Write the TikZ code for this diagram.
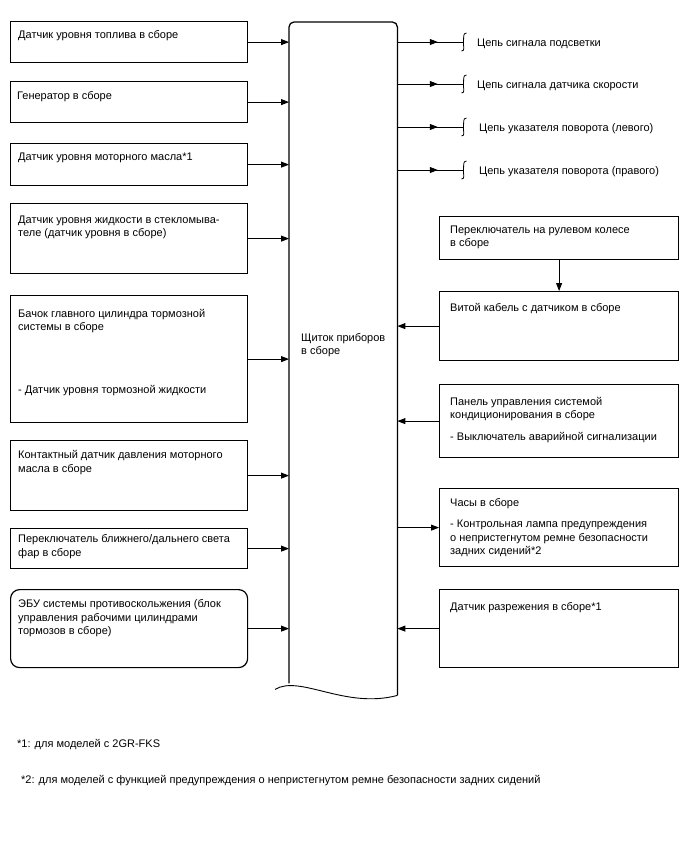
\documentclass[tikz,border=0pt]{standalone}
\usepackage{fontspec}
\setmainfont{Liberation Sans}
\usetikzlibrary{positioning,arrows.meta,calc,decorations.markings}

\tikzset{
  box/.style={draw, line width=1.2pt, anchor=north west, inner sep=0pt},
  txt/.style={anchor=north west, inner sep=0pt, align=left, yshift=-1.8pt},
  arr/.style={line width=0.9pt, -{Triangle[length=8pt,width=6pt]}},
  outarr/.style={line width=0.9pt, postaction={decorate},
    decoration={markings, mark=at position 0.62 with {\arrow{Triangle[length=8pt,width=6pt]}}}},
  brk/.style={line width=0.8pt}
}

\begin{document}
\begin{tikzpicture}[x=1pt,y=-1pt, font=\fontsize{11}{13.3}\selectfont]
\useasboundingbox (0,0) rectangle (688,852);

% instrument panel
\node[anchor=north west, inner sep=0pt, minimum width=108, minimum height=661] (panel) at (289,22) {};
\draw[line width=1.3pt, rounded corners=5pt] (panel.south west) -- (panel.north west) -- (panel.north east) -- ([shift={(0,12)}]panel.south east);
\draw[line width=0.9pt] ([shift={(-14,6)}]panel.south west) .. controls ([shift={(11,-9)}]panel.south west) and ([shift={(56,26)}]panel.south west) .. ([shift={(0,12)}]panel.south east);
\node[txt] (plabel) at (301,331.4) {Щиток приборов\\в сборе};

% inputs, left side
\node[box, minimum width=237, minimum height=41] (fuel) at (10,21) {};
\node[txt] (fueltx) at (18,28.7) {Датчик уровня топлива в сборе};
\node[box, minimum width=237, minimum height=41] (gen) at (10,81) {};
\node[txt] (gentx) at (17,89.7) {Генератор в сборе};
\node[box, minimum width=237, minimum height=42] (oil) at (10,143) {};
\node[txt] (oiltx) at (18,151.4) {Датчик уровня моторного масла*1};
\node[box, minimum width=237, minimum height=70] (washer) at (10,203) {};
\node[txt] (washertx) at (18,213.7) {Датчик уровня жидкости в стекломыва-\\теле (датчик уровня в сборе)};
\node[box, minimum width=237, minimum height=127] (brake) at (10,295) {};
\node[txt] (braketx) at (18,307.4) {Бачок главного цилиндра тормозной\\системы в сборе\\[49.7pt]- Датчик уровня тормозной жидкости};
\node[box, minimum width=237, minimum height=70] (press) at (10,440) {};
\node[txt] (presstx) at (18,448.7) {Контактный датчик давления моторного\\масла в сборе};
\node[box, minimum width=237, minimum height=40] (beam) at (10,528) {};
\node[txt] (beamtx) at (18,532.7) {Переключатель ближнего/дальнего света\\фар в сборе};
\node[box, rounded corners=9pt, minimum width=237, minimum height=78] (ecu) at (10,589) {};
\node[txt] (ecutx) at (18,597.7) {ЭБУ системы противоскольжения (блок\\управления рабочими цилиндрами\\тормозов в сборе)};

\draw[arr] (fuel.east) -- (fuel.east -| panel.west);
\draw[arr] (gen.east) -- (gen.east -| panel.west);
\draw[arr] (oil.east) -- (oil.east -| panel.west);
\draw[arr] (washer.east) -- (washer.east -| panel.west);
\draw[arr] (brake.east) -- (brake.east -| panel.west);
\draw[arr] (press.east) -- (press.east -| panel.west);
\draw[arr] (beam.east) -- (beam.east -| panel.west);
\draw[arr] (ecu.east) -- (ecu.east -| panel.west);

% outgoing signal circuits
\coordinate (cut1) at (464,42);
\coordinate (cut2) at (464,84);
\coordinate (cut3) at (464,127);
\coordinate (cut4) at (464,170);
\node[txt] (sig1) at (477,36.7) {Цепь сигнала подсветки};
\node[txt] (sig2) at (477,78.7) {Цепь сигнала датчика скорости};
\node[txt] (sig3) at (479,121.7) {Цепь указателя поворота (левого)};
\node[txt] (sig4) at (479,164.7) {Цепь указателя поворота (правого)};
\draw[outarr] (cut1 -| panel.east) -- ([shift={(-1.5,0)}]cut1);
\draw[outarr] (cut2 -| panel.east) -- ([shift={(-1.5,0)}]cut2);
\draw[outarr] (cut3 -| panel.east) -- ([shift={(-1.5,0)}]cut3);
\draw[outarr] (cut4 -| panel.east) -- ([shift={(-1.5,0)}]cut4);
\draw[brk] ([shift={(2.5,-9)}]cut1) .. controls +(-4,0) and +(0.5,-4) .. ([shift={(-0.5,0)}]cut1) .. controls +(-0.5,4) and +(4,0) .. ([shift={(-2.5,9)}]cut1);
\draw[brk] ([shift={(2.5,-9)}]cut2) .. controls +(-4,0) and +(0.5,-4) .. ([shift={(-0.5,0)}]cut2) .. controls +(-0.5,4) and +(4,0) .. ([shift={(-2.5,9)}]cut2);
\draw[brk] ([shift={(2.5,-9)}]cut3) .. controls +(-4,0) and +(0.5,-4) .. ([shift={(-0.5,0)}]cut3) .. controls +(-0.5,4) and +(4,0) .. ([shift={(-2.5,9)}]cut3);
\draw[brk] ([shift={(2.5,-9)}]cut4) .. controls +(-4,0) and +(0.5,-4) .. ([shift={(-0.5,0)}]cut4) .. controls +(-0.5,4) and +(4,0) .. ([shift={(-2.5,9)}]cut4);

% right side
\node[box, minimum width=239, minimum height=43] (sw) at (439,216) {};
\node[txt] (swtx) at (450,223.7) {Переключатель на рулевом колесе\\в сборе};
\node[box, minimum width=239, minimum height=69] (spiral) at (439,291) {};
\node[txt] (spiraltx) at (450,301.7) {Витой кабель с датчиком в сборе};
\node[box, minimum width=239, minimum height=73] (ac) at (439,384) {};
\node[txt] (actx) at (450,395.4) {Панель управления системой\\кондиционирования в сборе\\[8.4pt]- Выключатель аварийной сигнализации};
\node[box, minimum width=239, minimum height=78] (clock) at (439,488) {};
\node[txt] (clocktx) at (450,496.4) {Часы в сборе\\[8pt]- Контрольная лампа предупреждения\\о непристегнутом ремне безопасности\\задних сидений*2};
\node[box, minimum width=239, minimum height=78] (vac) at (439,589) {};
\node[txt] (vactx) at (450,600.4) {Датчик разрежения в сборе*1};

\draw[arr] (sw.south) -- (spiral.north);
\draw[arr] (spiral.west) -- (spiral.west -| panel.east);
\draw[arr] (ac.west) -- (ac.west -| panel.east);
\draw[arr] (clock.west -| panel.east) -- (clock.west);
\draw[arr] (vac.west) -- (vac.west -| panel.east);

% notes
\node[txt] (note1) at (17,737.7) {*1: для моделей с 2GR-FKS};
\node[txt] (note2) at (21,773.7) {*2: для моделей с функцией предупреждения о непристегнутом ремне безопасности задних сидений};
\end{tikzpicture}
\end{document}
